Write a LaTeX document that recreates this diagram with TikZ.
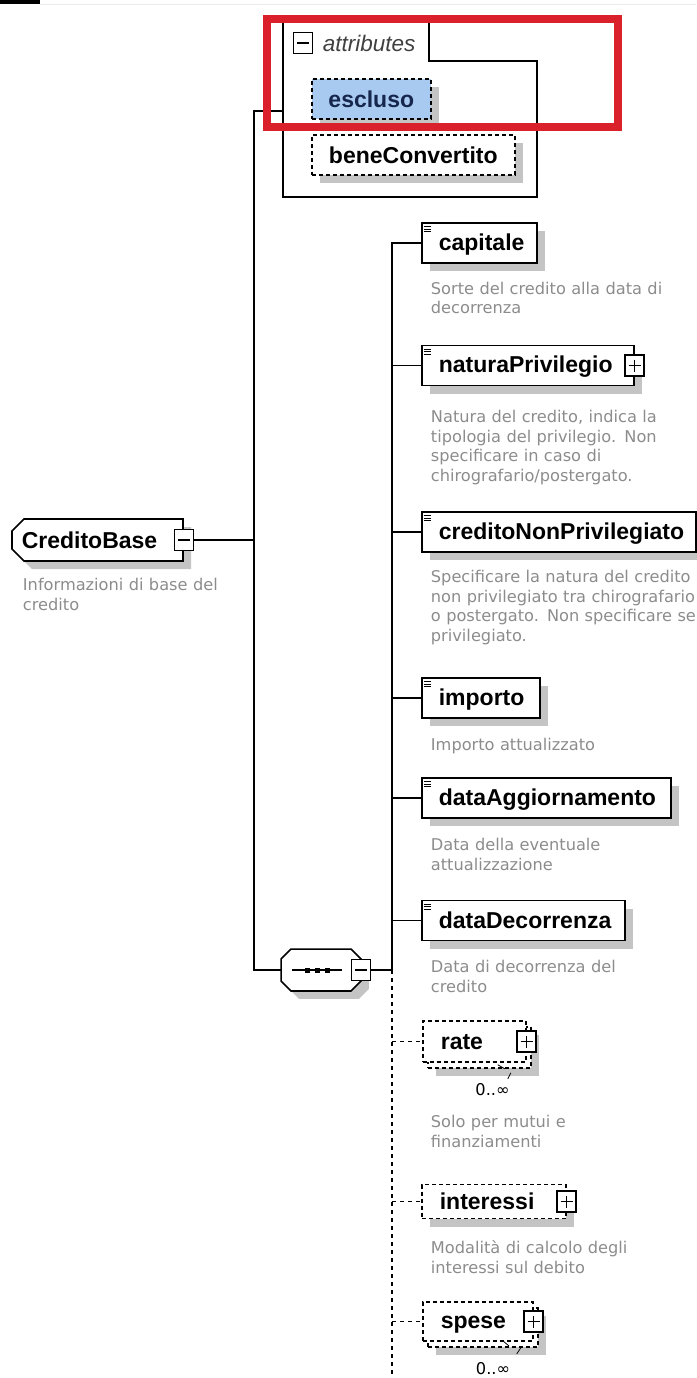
\documentclass[tikz,border=0pt]{standalone}
\usepackage{fontspec}
\setmainfont{Liberation Sans}
\newfontfamily\descfont{DejaVu Sans}
\usetikzlibrary{calc,positioning,shapes.misc,shadows}

\definecolor{shadowgray}{RGB}{196,196,196}
\definecolor{docgray}{RGB}{140,140,140}
\definecolor{attrblue}{RGB}{168,202,240}
\definecolor{attrnavy}{RGB}{22,38,76}
\definecolor{markred}{RGB}{218,32,42}

\begin{document}
\begin{tikzpicture}[
    x=1pt, y=-1pt,
    line width=1.9pt,
    %
    dropsh/.style={general shadow={fill=shadowgray, draw=none,
        shadow xshift=8pt, shadow yshift=-8pt}},
    stack/.style={general shadow={fill=shadowgray, draw=none,
        shadow xshift=13pt, shadow yshift=-14pt},
        general shadow={draw, fill=white, dash pattern=on 4pt off 3pt,
        shadow xshift=5pt, shadow yshift=-6pt}},
    box/.style={draw, fill=white, rectangle, anchor=west, inner xsep=0pt,
        text width=#1, align=left, minimum height=40pt, line width=1.6pt,
        font=\fontsize{23}{27}\selectfont\bfseries},
    elem/.style={box=#1, dropsh, execute at begin node={\rule[-4.5pt]{0pt}{24pt}\hspace*{17pt}},
        path picture={\foreach \k in {3.5,6,8.5}
            \draw[line width=0.9pt] ($(path picture bounding box.north west)+(2,\k)$) -- ++(7,0);}},
    optelem/.style={box=#1, dash pattern=on 4pt off 3pt,
        execute at begin node={\rule[-4.5pt]{0pt}{24pt}\hspace*{18pt}}},
    attr/.style={draw, fill=white, rectangle, anchor=west, dash pattern=on 4pt off 3pt,
        minimum width=#1, minimum height=40pt, dropsh, line width=1.6pt,
        font=\fontsize{23}{27}\selectfont\bfseries},
    pm/.style={draw, fill=white, rectangle, minimum width=19pt, minimum height=21pt,
        inner sep=0pt, line width=1.3pt},
    minus/.style={pm, path picture={\draw[line width=1.3pt]
        ($(path picture bounding box.center)+(-6,0)$) -- ++(12,0);}},
    plus/.style={pm, path picture={\draw[line width=1.3pt]
        ($(path picture bounding box.center)+(-6,0)$) -- ++(12,0)
        ($(path picture bounding box.center)+(0,-6)$) -- ++(0,12);}},
    seq/.style={rectangle, minimum width=78pt, minimum height=40pt, inner sep=0pt},
    root/.style={chamfered rectangle, chamfered rectangle corners={north west,south west},
        chamfered rectangle xsep=10pt, draw, fill=white, minimum width=171pt,
        minimum height=42pt, inner sep=0pt, dropsh, line width=1.6pt,
        font=\fontsize{23}{27}\selectfont\bfseries},
    doc/.style={anchor=base west, inner sep=0pt, text width=300pt, align=left,
        text=docgray, font=\descfont\fontsize{16.2}{19.5}\selectfont},
    occ/.style={inner sep=0pt, font=\descfont\fontsize{16.2}{19.5}\selectfont},
    attrlabel/.style={anchor=west, inner sep=0pt, text=black!75,
        font=\fontsize{22.5}{27}\selectfont\itshape},
    opt/.style={dash pattern=on 4pt off 4pt}
    ]

    \useasboundingbox (0,0) rectangle (696,1378);
    \fill (0,0) rectangle (40,4);
    \draw[black!8, line width=1pt] (40,4.5) -- (696,4.5);
    %
    \node[root] (CreditoBase) at (97.5,540) {CreditoBase\hspace*{16pt}};
    \node[minus] (cb-pm) at (CreditoBase.east) {};
    \node[doc] (CreditoBase-doc) at (22,590.5) {Informazioni di base del\\credito};
    %
    % attributes
    \draw[line width=1.6pt] (283,22) -- (429,22) -- (429,61) -- (537,61) -- (537,197) -- (283,197) -- cycle;
    \node[minus] (attr-pm) at (303,43) {};
    \node[attrlabel] (attr-lbl) at (322,43) {attributes};
    \node[attr=119pt, fill=attrblue, text=attrnavy] (escluso) at (311,99) {escluso};
    \node[attr=203pt] (beneConvertito) at (311,155) {beneConvertito};
    %
    % sequence
    \node[seq] (seq) at (321,970) {};
    \draw[fill=white, dropsh, line width=1.6pt] ($(seq.north west)+(10,0)$) -- ($(seq.north east)+(-10,0)$)
        -- ($(seq.north east)+(0,10)$) -- ($(seq.south east)+(0,-10)$)
        -- ($(seq.south east)+(-10,0)$) -- ($(seq.south west)+(10,0)$)
        -- ($(seq.south west)+(0,-10)$) -- ($(seq.north west)+(0,10)$) -- cycle;
    \draw ($(seq.center)+(-29,0)$) -- ($(seq.center)+(21,0)$);
    \foreach \k in {-14,-4,6}
        \fill ($(seq.center)+(\k-2.5,-2.5)$) rectangle ++(5,5);
    \node[minus] (seq-pm) at (seq.east) {};
    %
    % children
    \node[elem=115pt] (capitale) at (421,243) {capitale};
    \node[doc] (capitale-doc) at (430,294) {Sorte del credito alla data di\\decorrenza};
    \node[elem=212pt] (naturaPrivilegio) at (421,365.5) {naturaPrivilegio};
    \node[plus] (natura-pm) at (naturaPrivilegio.east) {};
    \node[doc] (natura-doc) at (430,422.5) {Natura del credito, indica la\\tipologia del privilegio. Non\\specificare in caso di\\chirografario/postergato.};
    \node[elem=274pt] (creditoNonPrivilegiato) at (421,532) {creditoNonPrivilegiato};
    \node[doc] (credito-doc) at (430,582.5) {Specificare la natura del credito\\non privilegiato tra chirografario\\o postergato. Non specificare se\\privilegiato.};
    \node[elem=118pt] (importo) at (421,698) {importo};
    \node[doc] (importo-doc) at (430,750.5) {Importo attualizzato};
    \node[elem=249pt] (dataAggiornamento) at (421,798) {dataAggiornamento};
    \node[doc] (agg-doc) at (430,850.5) {Data della eventuale\\attualizzazione};
    \node[elem=203pt] (dataDecorrenza) at (421,920.5) {dataDecorrenza};
    \node[doc] (dec-doc) at (430,972.5) {Data di decorrenza del\\credito};
    %
    \node[optelem=103pt, stack, minimum height=41pt] (rate) at (422,1041.5) {rate};
    \node[plus] (rate-pm) at (rate.east) {};
    \node[occ] (rate-occ) at (492.5,1090) {0..∞};
    \draw[line width=0.8pt] ($(rate.south)+(23.5,2)$) -- ++(7,4)
        ($(rate.south)+(36.5,10)$) -- ++(-3,6);
    \node[doc] (rate-doc) at (430,1127.5) {Solo per mutui e\\finanziamenti};
    \node[optelem=144pt, dropsh, minimum height=34pt] (interessi) at (421,1201.5) {interessi};
    \node[plus] (interessi-pm) at (interessi.east) {};
    \node[doc] (interessi-doc) at (430,1253.5) {Modalità di calcolo degli\\interessi sul debito};
    \node[optelem=110pt, stack, minimum height=39pt] (spese) at (422,1321.5) {spese};
    \node[plus] (spese-pm) at (spese.east) {};
    \draw[line width=0.8pt] ($(spese.south)+(25,-1)$) -- ++(6,5)
        ($(spese.south)+(43,6)$) -- ++(-4,6);
    \node[occ] (spese-occ) at (493,1368.5) {0..∞};
    %
    % tree lines
    \coordinate (rbus-top) at (254,111);
    \coordinate (rbus-bot) at (254,970);
    \coordinate (attr-in) at (283,111);
    \coordinate (sbus) at (392,970);
    \coordinate (sbus-end) at (392,1378);
    \draw (cb-pm.east) -- (cb-pm.east -| rbus-top);
    \draw (attr-in) -- (rbus-top) -- (rbus-bot) -- (seq.west);
    \draw (seq-pm.east) -- (sbus) |- (capitale.west);
    \foreach \n in {naturaPrivilegio,creditoNonPrivilegiato,importo,dataAggiornamento,dataDecorrenza}
        \draw (sbus |- \n.west) -- (\n.west);
    \draw[opt] (sbus) -- (sbus-end);
    \foreach \n in {rate,interessi,spese}
        \draw[opt] (sbus |- \n.west) -- (\n.west);
    %
    \draw[markred, line width=8pt] (267,19) rectangle (618,127);

\end{tikzpicture}
\end{document}
